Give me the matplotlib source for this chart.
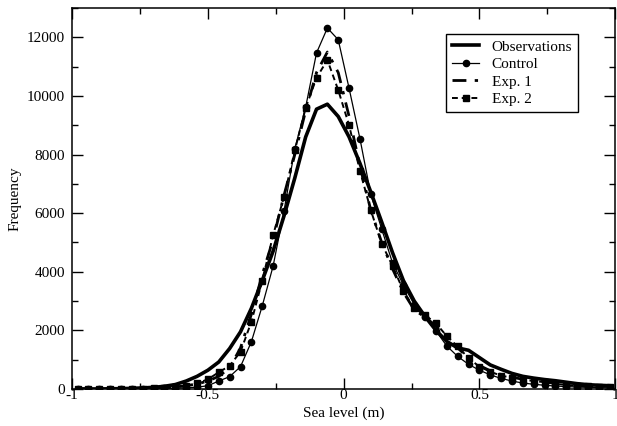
import matplotlib.pyplot as plt
import numpy as np
from matplotlib.ticker import MultipleLocator

plt.rcParams['font.family'] = ['Liberation Serif', 'DejaVu Serif']
plt.rcParams['axes.unicode_minus'] = False

# bin centres (m)
sea_level = [-0.98, -0.94, -0.90, -0.86, -0.82, -0.78, -0.74, -0.70, -0.66, -0.62,
             -0.58, -0.54, -0.50, -0.46, -0.42, -0.38, -0.34, -0.30, -0.26, -0.22,
             -0.18, -0.14, -0.10, -0.06, -0.02, 0.02, 0.06, 0.10, 0.14, 0.18,
             0.22, 0.26, 0.30, 0.34, 0.38, 0.42, 0.46, 0.50, 0.54, 0.58,
             0.62, 0.66, 0.70, 0.74, 0.78, 0.82, 0.86, 0.90, 0.94, 0.98]

observations = [0, 0, 0, 5, 10, 20, 35, 55, 90, 150,
                270, 430, 640, 920, 1380, 1950, 2750, 3700, 4700, 5900,
                7200, 8600, 9550, 9720, 9300, 8600, 7700, 6720, 5700, 4650,
                3700, 3000, 2470, 2000, 1620, 1400, 1320, 1070, 820, 670,
                530, 430, 370, 320, 280, 230, 180, 145, 125, 110]

control = [0, 0, 0, 0, 0, 0, 5, 10, 15, 25,
           40, 60, 110, 270, 420, 760, 1610, 2830, 4190, 6060,
           8200, 9620, 11470, 12320, 11920, 10260, 8540, 6640, 5460, 4300,
           3550, 2880, 2450, 1980, 1465, 1110, 840, 640, 480, 360,
           270, 200, 160, 125, 100, 80, 65, 55, 45, 40]

exp1 = [0, 0, 0, 0, 0, 5, 10, 20, 40, 70,
        110, 170, 270, 430, 720, 1400, 2550, 3900, 5100, 6600,
        8000, 9500, 10800, 11500, 10800, 9300, 7600, 6100, 5000, 4100,
        3300, 2700, 2450, 2150, 1750, 1400, 1050, 800, 620, 490,
        400, 330, 280, 240, 190, 150, 120, 100, 90, 85]

exp2 = [0, 0, 0, 0, 0, 5, 10, 15, 30, 65,
        110, 190, 330, 570, 790, 1270, 2290, 3690, 5250, 6550,
        8140, 9590, 10620, 11230, 10200, 9000, 7440, 6100, 4960, 4200,
        3350, 2750, 2520, 2240, 1800, 1450, 1050, 760, 590, 450,
        390, 320, 270, 230, 175, 135, 105, 90, 80, 80]

fig = plt.figure(figsize=(6.17, 4.26), dpi=100)
ax = fig.add_axes([0.117, 0.087, 0.880, 0.894])

ax.plot(sea_level, observations, color="black", linewidth=2.6, label="Observations")
ax.plot(sea_level, control, color="black", linewidth=0.9, marker="o", markersize=4.5,
        label="Control")
ax.plot(sea_level, exp1, color="black", linewidth=2.0, linestyle=(0, (5, 3, 1.2, 3)),
        label="Exp. 1")
ax.plot(sea_level, exp2, color="black", linewidth=1.4, linestyle=(0, (3, 2)), marker="s",
        markersize=4.5, label="Exp. 2")

ax.set_xlim(-1, 1)
ax.set_ylim(0, 13000)
ax.set_xticks([-1, -0.5, 0, 0.5, 1])
ax.set_xticklabels(["-1", "-0.5", "0", "0.5", "1"])
ax.set_yticks(np.arange(0, 12001, 2000))
ax.xaxis.set_minor_locator(MultipleLocator(0.25))
ax.yaxis.set_minor_locator(MultipleLocator(1000))
ax.tick_params(which="both", direction="in", top=True, right=True, labelsize=11, width=1)
ax.tick_params(which="major", length=8)
ax.tick_params(which="minor", length=4)
ax.tick_params(axis="x", pad=0)
ax.tick_params(axis="y", pad=5)
for s in ax.spines.values():
    s.set_linewidth(1.1)

ax.set_xlabel("Sea level (m)", fontsize=11, labelpad=3)
ax.set_ylabel("Frequency", fontsize=11, labelpad=4)

leg = ax.legend(loc="upper right", bbox_to_anchor=(0.932, 0.932), borderaxespad=0,
                fontsize=11, fancybox=False, edgecolor="black", framealpha=1,
                handlelength=1.8, handletextpad=0.8, labelspacing=0.25, borderpad=0.4)
leg.get_frame().set_linewidth(1.0)

fig.savefig("out.png", dpi=100)
